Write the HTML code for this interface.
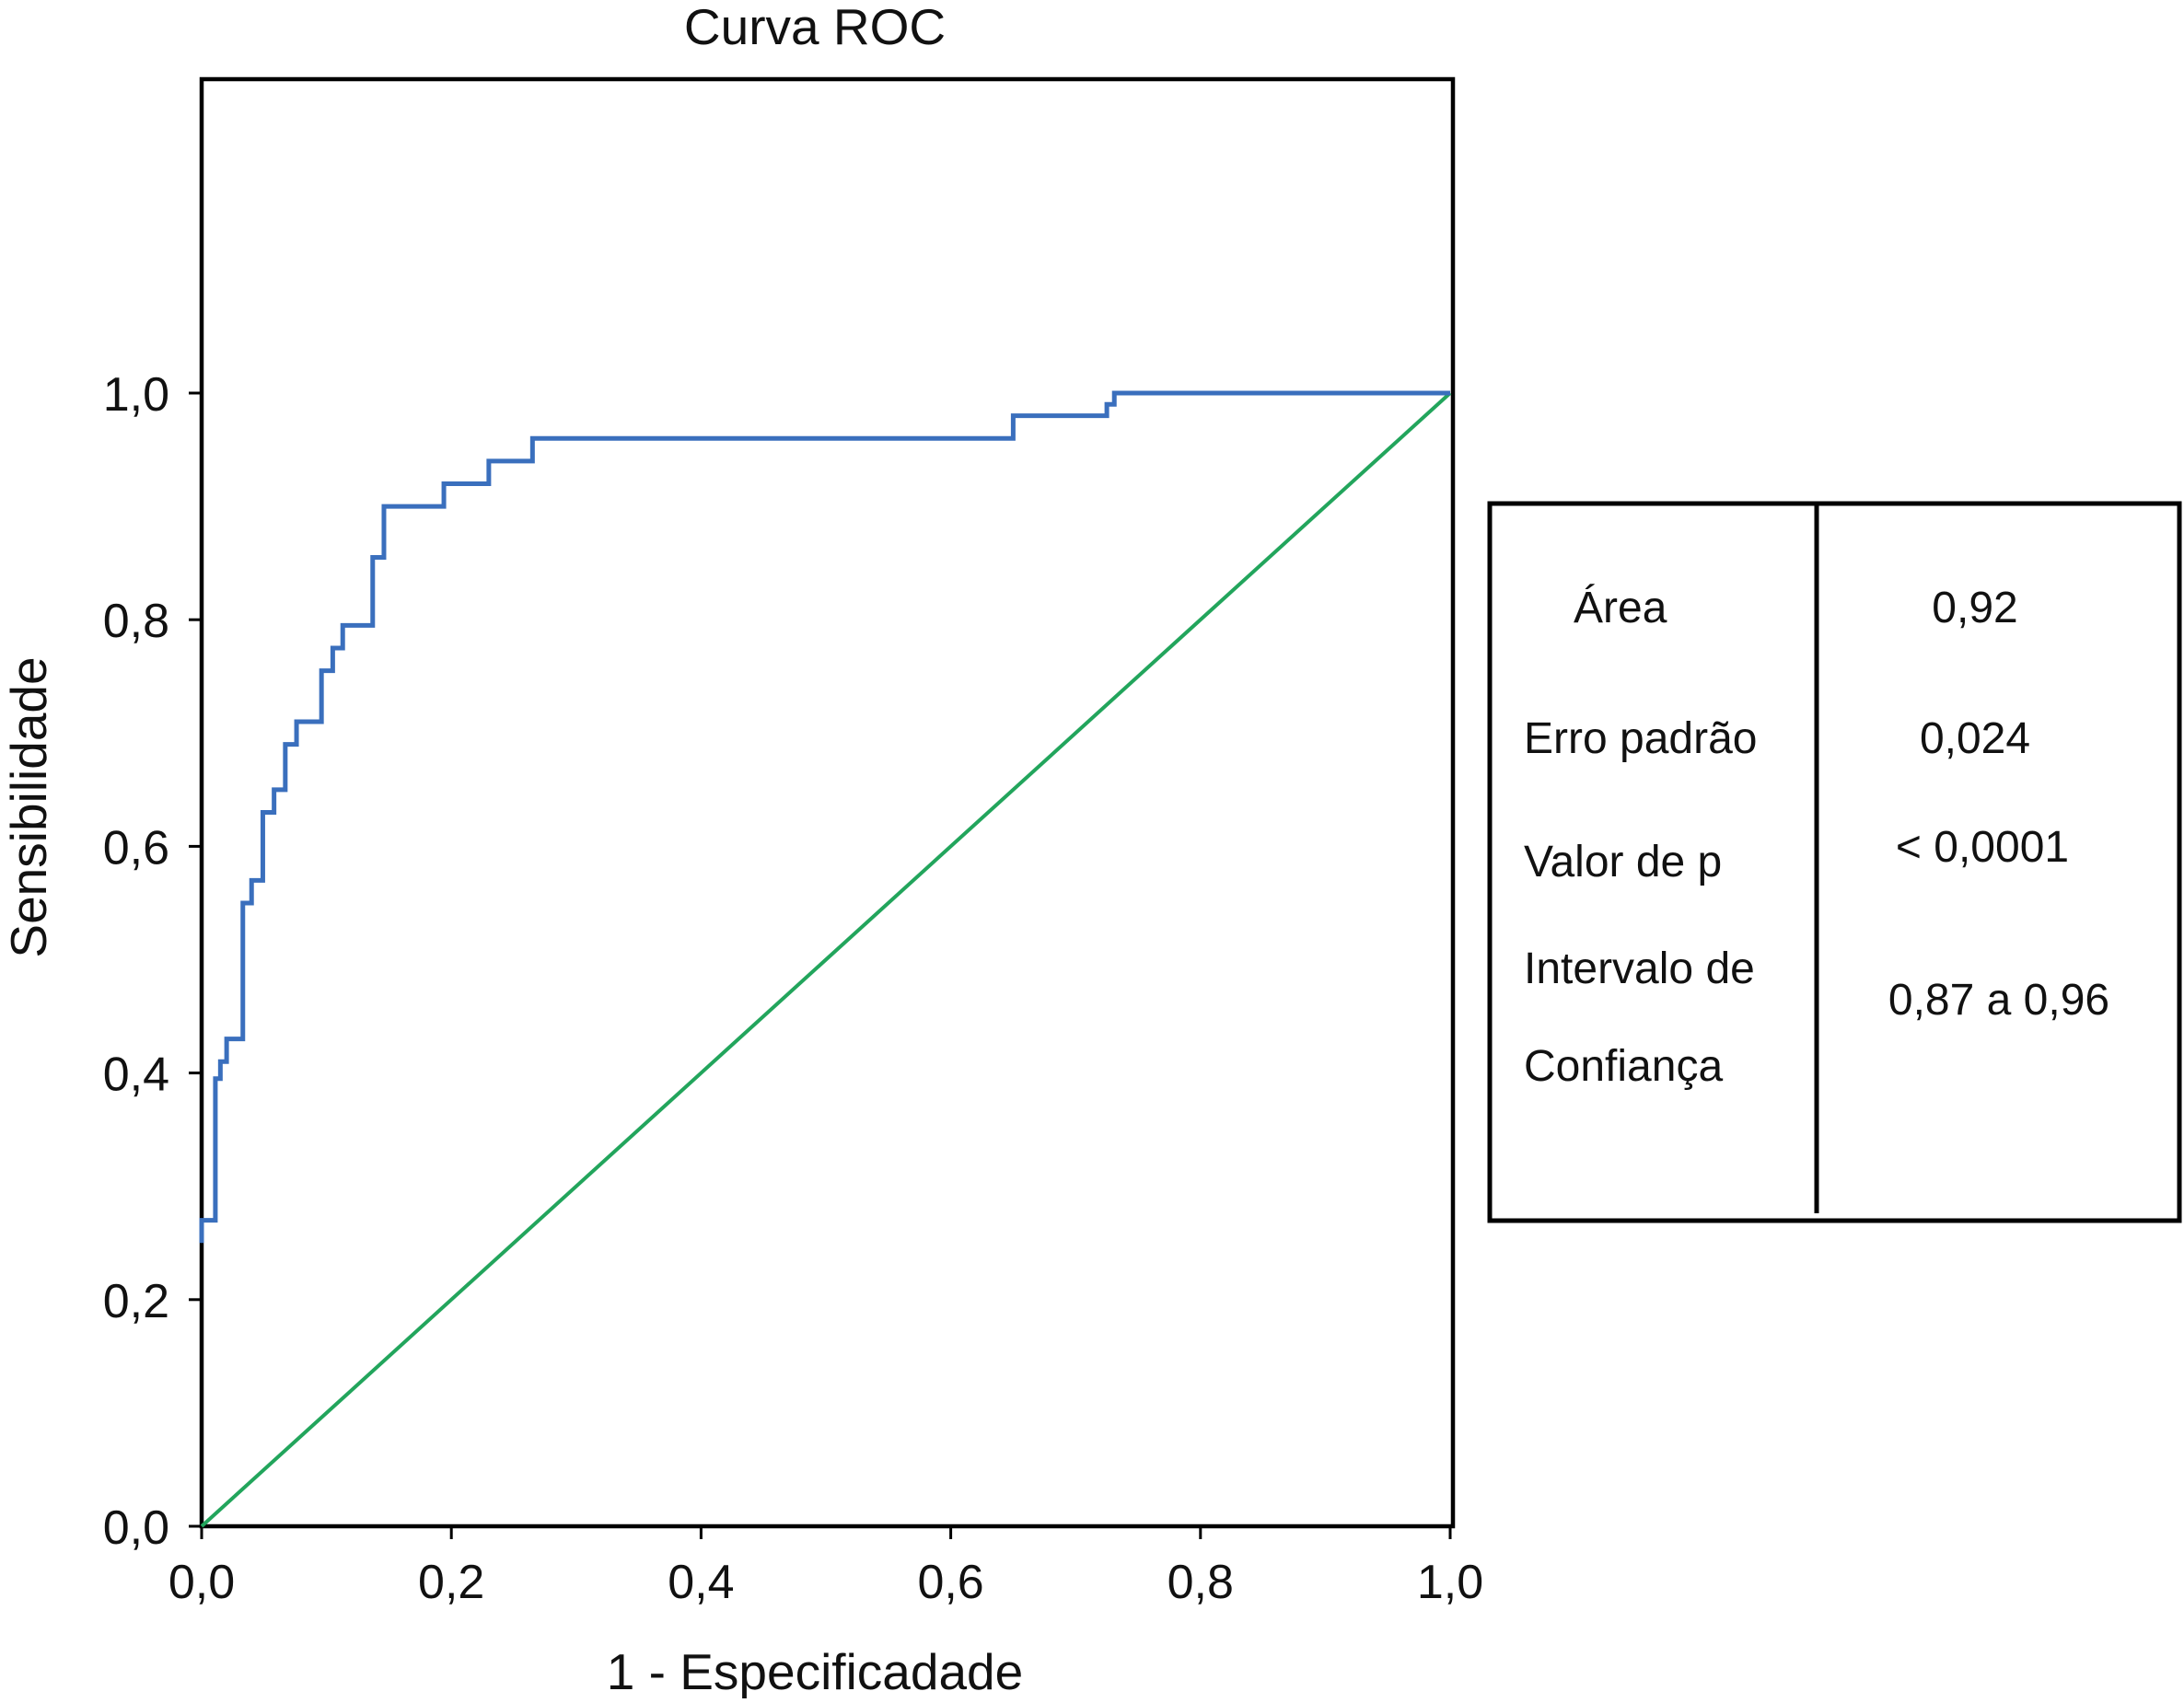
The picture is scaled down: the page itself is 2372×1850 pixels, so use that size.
<!DOCTYPE html>
<html><head><meta charset="utf-8"><style>
body{margin:0;background:#fff}
svg text{font-family:"Liberation Sans",sans-serif;fill:#111}
</style></head><body>
<svg id="chart" width="2372" height="1845" viewBox="0 0 2372 1845">
<text x="885" y="48" font-size="55" text-anchor="middle">Curva ROC</text>
<rect x="219" y="86" width="1359" height="1572" fill="none" stroke="#000" stroke-width="4.5"/>
<g id="axes"></g>
<g id="series"></g>
<text x="885" y="1835" font-size="55" text-anchor="middle">1 - Especificadade</text>
<text transform="translate(50,877) rotate(-90)" font-size="55" text-anchor="middle">Sensibilidade</text>
<g>
<rect x="1618" y="547" width="749" height="779" fill="none" stroke="#000" stroke-width="5"/>
<line x1="1973" y1="547" x2="1973" y2="1318" stroke="#000" stroke-width="5"/>
<g font-size="48">
<text x="1709" y="676">Área</text>
<text x="2145" y="676" text-anchor="middle">0,92</text>
<text x="1655" y="818">Erro padrão</text>
<text x="2145" y="818" text-anchor="middle">0,024</text>
<text x="1655" y="952">Valor de p</text>
<text x="2153" y="936" text-anchor="middle">&lt; 0,0001</text>
<text x="1655" y="1068">Intervalo de</text>
<text x="1655" y="1174">Confiança</text>
<text x="2171" y="1102" text-anchor="middle">0,87 a 0,96</text>
</g></g>
</svg>
<script>
const xTicks=[0,0.2,0.4,0.6,0.8,1.0];
const yTicks=[0,0.2,0.4,0.6,0.8,1.0];
const tickLabels=["0,0","0,2","0,4","0,6","0,8","1,0"];
const rocFpr=[0,0,0.011,0.011,0.015,0.02,0.033,0.04,0.049,0.058,0.067,0.076,0.096,0.105,0.113,0.137,0.146,0.194,0.23,0.265,0.65,0.725,0.731,1.0];
const rocTpr=[0.25,0.27,0.27,0.395,0.41,0.43,0.55,0.57,0.63,0.65,0.69,0.71,0.755,0.775,0.795,0.855,0.90,0.92,0.94,0.96,0.98,0.99,1.0,1.0];
const refFpr=[0,1];
const refTpr=[0,1];
const NS="http://www.w3.org/2000/svg";
const X=v=>219+v*1356, Y=v=>1658-v*1231;
const ax=document.getElementById('axes'), se=document.getElementById('series');
function mk(t,a,p){const e=document.createElementNS(NS,t);for(const k in a)e.setAttribute(k,a[k]);p.appendChild(e);return e;}
xTicks.forEach((v,i)=>{
 const l=mk('line',{x1:X(v),x2:X(v),y1:1658,y2:1672,stroke:'#000','stroke-width':3},ax);
 
 
 const t=mk('text',{x:X(v),y:1736,'font-size':52,'text-anchor':'middle'},ax);t.textContent=tickLabels[i];
 
 
});
yTicks.forEach((v,i)=>{
 const l=mk('line',{x1:205,x2:219,y1:Y(v),y2:Y(v),stroke:'#000','stroke-width':3},ax);
 
 
 const t=mk('text',{x:184,y:Y(v)+19,'font-size':52,'text-anchor':'end'},ax);t.textContent=tickLabels[i];
 
 
});
const ref=mk('polyline',{points:refFpr.map((v,i)=>X(v)+','+Y(refTpr[i])).join(' '),fill:'none',stroke:'#22a55c','stroke-width':4},se);


let d='M'+X(rocFpr[0])+' '+Y(rocTpr[0]);
for(let i=1;i<rocFpr.length;i++){d+=' H'+X(rocFpr[i])+' V'+Y(rocTpr[i]);}
const roc=mk('path',{d:d,fill:'none',stroke:'#3a6fbd','stroke-width':5},se);


</script>
</body></html>
